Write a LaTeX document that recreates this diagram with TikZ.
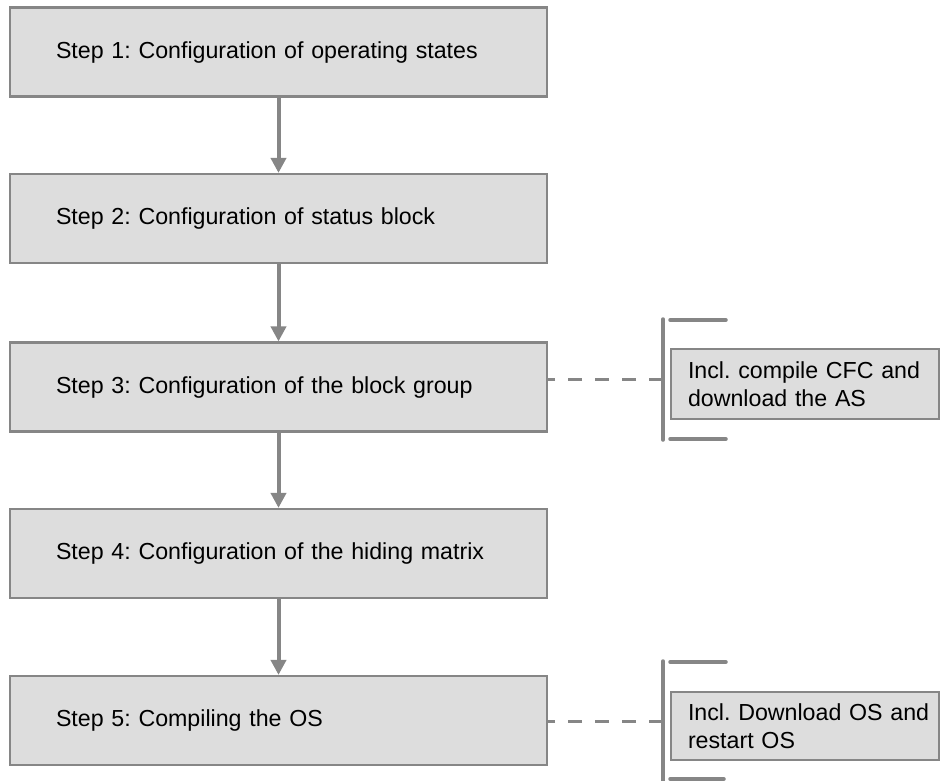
\documentclass[tikz,border=0pt]{standalone}
\usepackage{fontspec}
\setmainfont{Liberation Sans}
\usetikzlibrary{arrows.meta}
\definecolor{boxfill}{HTML}{DDDDDD}
\definecolor{edgegray}{HTML}{868686}
\begin{document}
\frenchspacing
\begin{tikzpicture}[x=1pt,y=-1pt,
  stepbox/.style={draw=edgegray, line width=2.2pt, fill=boxfill,
    minimum width=537pt, minimum height=89pt, inner xsep=0pt,
    text width=445pt, align=left, font=\fontsize{23.2}{28}\selectfont},
  notebox/.style={draw=edgegray, line width=1.6pt, fill=boxfill,
    minimum width=268pt, inner xsep=17pt, inner ysep=0pt,
    text width=234pt, align=left, font=\fontsize{23.2}{27.5}\selectfont},
  flow/.style={draw=edgegray, line width=4pt, -{Triangle[width=15pt,length=15pt]}},
  link/.style={draw=edgegray, line width=3pt, dash pattern=on 14pt off 13pt},
  bracketline/.style={draw=edgegray, line width=3.5pt, line cap=round}]
\useasboundingbox (0,0) rectangle (941,780);
\clip (0,0) rectangle (941,780);

\node[stepbox] (b1) at (278.5,52) {Step 1: Configuration of operating states};
\node[stepbox] (b2) at (278.5,218.5) {Step 2: Configuration of status block};
\node[stepbox] (b3) at (278.5,387) {Step 3: Configuration of the block group};
\node[stepbox] (b4) at (278.5,553.5) {Step 4: Configuration of the hiding matrix};
\node[stepbox] (b5) at (278.5,720.5) {Step 5: Compiling the OS};

\draw[flow] (b1) -- (b2);
\draw[flow] (b2) -- (b3);
\draw[flow] (b3) -- (b4);
\draw[flow] (b4) -- (b5);

\node[notebox, minimum height=70pt] (n3) at (805,384) {\mbox{Incl. compile CFC and}\\\mbox{download the AS}};
\node[notebox, minimum height=68pt] (n5) at (805,726) {\mbox{Incl. Download OS and}\\\mbox{restart OS}};

% brackets
\coordinate (k3) at (663,379.5);
\draw[bracketline] (663,319) -- (663,440);
\draw[bracketline] (670,320) -- (726,320);
\draw[bracketline] (670,439) -- (726,439);
\coordinate (k5) at (663,721);
\draw[bracketline] (663,661) -- (663,790);
\draw[bracketline] (670,662) -- (726,662);
\draw[bracketline] (670,779) -- (724,779);

\draw[link] (k3) -- (b3.east |- k3);
\draw[link] (k5) -- (b5.east |- k5);
\end{tikzpicture}
\end{document}
